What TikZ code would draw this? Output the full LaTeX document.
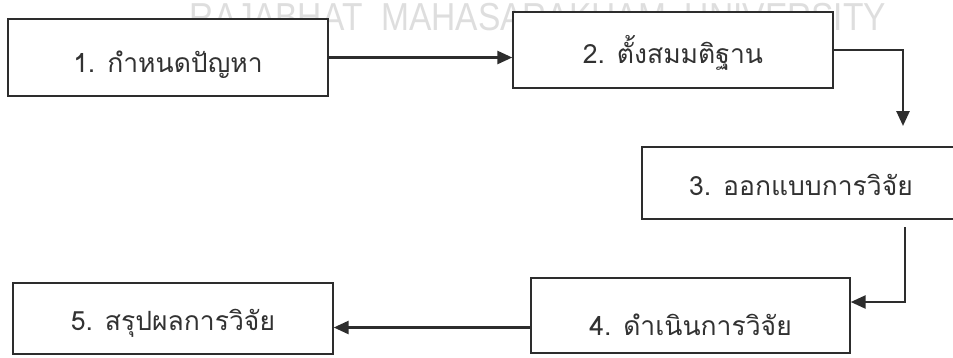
\documentclass[tikz,border=0pt]{standalone}
\usepackage{fontspec}
\newfontfamily\thaifont[Script=Thai]{Loma}
\newfontfamily\wmfont{Liberation Sans}
\usetikzlibrary{arrows.meta}
\definecolor{inkc}{RGB}{45,45,45}
\definecolor{txtc}{RGB}{50,50,50}
\definecolor{wmc}{RGB}{222,222,222}
\begin{document}
\begin{tikzpicture}[x=1pt,y=-1pt,
  box/.style={draw=inkc, line width=1.4pt, fill=white, inner sep=0pt,
    minimum width=320pt, text=txtc, font=\thaifont\fontsize{26.5pt}{30pt}\selectfont,
    text depth=0pt},
  flow/.style={draw=inkc, line width=2.6pt,
    -{Triangle[length=15pt,width=13pt]}}]
\useasboundingbox (0,0) rectangle (953,357);
\clip (0,0) rectangle (953,357);
\fill[white] (0,0) rectangle (953,357);
\node[anchor=base, text=wmc, inner sep=0pt, text height=28pt, text depth=0pt] (wm) at (538,30)
  {\scalebox{0.86}[1]{\wmfont\fontsize{39pt}{41pt}\selectfont RAJABHAT\ \ MAHASARAKHAM\ \ UNIVERSITY}};
\node[box, minimum height=77pt, text height=29pt] (b1) at (168,57.5) {1. กำหนดปัญหา};
\node[box, minimum height=76pt, text height=26pt] (b2) at (673,50) {2. ตั้งสมมติฐาน};
\node[box, minimum width=318pt, minimum height=72pt, text height=24pt] (b3) at (801,183) {3. ออกแบบการวิจัย};
\node[box, minimum width=319pt, minimum height=75pt, text height=39pt] (b4) at (690.5,315.5) {4. ดำเนินการวิจัย};
\node[box, minimum height=71pt, text height=23pt] (b5) at (173,318.5) {5. สรุปผลการวิจัย};
\coordinate (e23) at (903,126);
\coordinate (s34) at (905,227);
\draw[flow] (b1.east) -- (b1.east -| b2.west);
\draw[flow] (b2.east) -| (e23);
\draw[flow] (s34) |- ([yshift=13.5pt]b4.east);
\draw[flow] ([yshift=-12pt]b4.west) -- ([yshift=-12pt]b4.west -| b5.east);
\end{tikzpicture}
\end{document}
